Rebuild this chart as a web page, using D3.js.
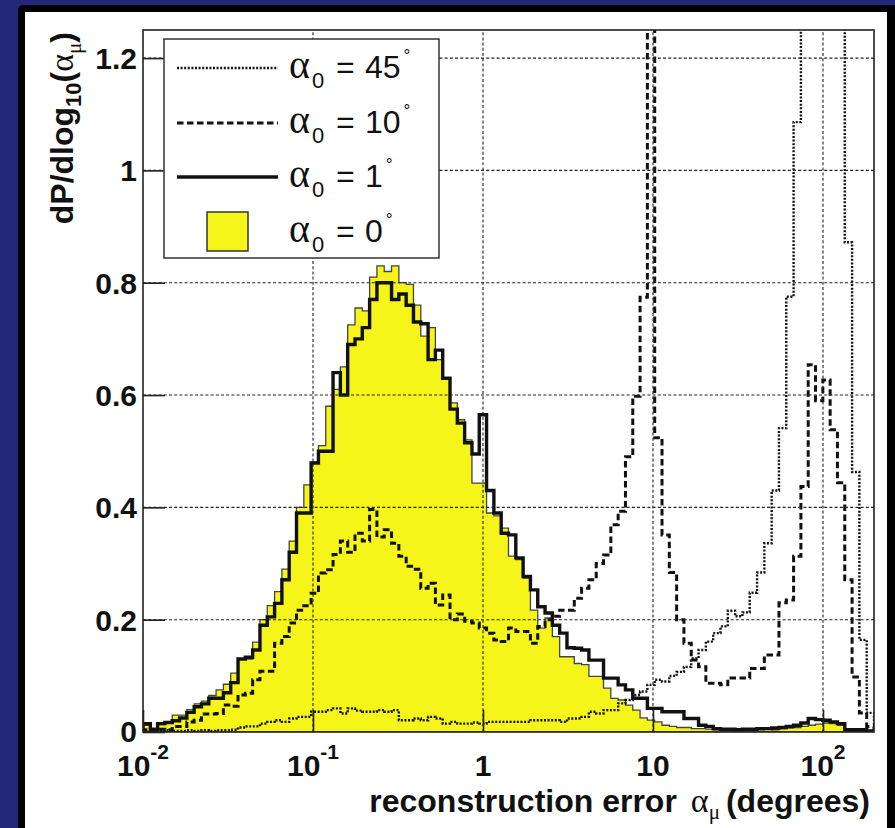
<!DOCTYPE html>
<html>
<head>
<meta charset="utf-8">
<script src="https://cdn.jsdelivr.net/npm/d3@7"></script>
<style>
  html, body { margin: 0; padding: 0; background: #25277a; overflow: hidden; }
  svg { display: block; }
</style>
</head>
<body>
<div id="chart"></div>
<script>
// binning of the histograms: 100 bins, equal width in log10(alpha_mu)
var nBins = 100, logMin = -2, logStep = 0.043;

// dP/dlog10 per bin
var alpha0 = [
  0.012, 0.004, 0.013, 0.018, 0.030, 0.030, 0.040, 0.050, 0.055, 0.065,
  0.075, 0.085, 0.105, 0.130, 0.130, 0.160, 0.200, 0.225, 0.250, 0.290,
  0.340, 0.400, 0.440, 0.480, 0.510, 0.580, 0.610, 0.650, 0.725, 0.755,
  0.750, 0.810, 0.830, 0.820, 0.830, 0.800, 0.797, 0.760, 0.705, 0.720,
  0.663, 0.630, 0.586, 0.556, 0.520, 0.443, 0.443, 0.390, 0.385, 0.363,
  0.313, 0.307, 0.274, 0.217, 0.185, 0.203, 0.170, 0.134, 0.134, 0.122,
  0.120, 0.099, 0.099, 0.078, 0.060, 0.057, 0.048, 0.039, 0.025, 0.021,
  0.018, 0.012, 0.010, 0.008, 0.008, 0.006, 0.006, 0.005, 0.004, 0.004,
  0.004, 0.005, 0.003, 0.004, 0.004, 0.005, 0.004, 0.006, 0.007, 0.008,
  0.010, 0.012, 0.014, 0.016, 0.015, 0.012, 0.006, 0.002, 0.001, 0.000
];
var alpha1 = [
  0.015, 0.005, 0.015, 0.017, 0.020, 0.025, 0.035, 0.045, 0.050, 0.060,
  0.060, 0.070, 0.088, 0.130, 0.133, 0.146, 0.190, 0.205, 0.229, 0.271,
  0.320, 0.390, 0.390, 0.479, 0.500, 0.500, 0.640, 0.600, 0.690, 0.700,
  0.720, 0.770, 0.800, 0.800, 0.770, 0.780, 0.760, 0.730, 0.727, 0.663,
  0.680, 0.630, 0.575, 0.550, 0.515, 0.495, 0.565, 0.430, 0.390, 0.354,
  0.351, 0.310, 0.277, 0.253, 0.223, 0.212, 0.190, 0.176, 0.150, 0.149,
  0.146, 0.128, 0.128, 0.096, 0.096, 0.084, 0.075, 0.060, 0.060, 0.042,
  0.042, 0.036, 0.036, 0.036, 0.024, 0.024, 0.012, 0.010, 0.006, 0.005,
  0.005, 0.004, 0.005, 0.005, 0.006, 0.006, 0.007, 0.008, 0.010, 0.012,
  0.016, 0.024, 0.022, 0.021, 0.018, 0.015, 0.004, 0.004, 0.004, 0.002
];
var alpha10 = [
  0.004, 0.003, 0.005, 0.004, 0.010, 0.010, 0.018, 0.021, 0.032, 0.032,
  0.033, 0.048, 0.046, 0.066, 0.069, 0.093, 0.108, 0.108, 0.158, 0.170,
  0.194, 0.217, 0.225, 0.247, 0.283, 0.289, 0.316, 0.340, 0.320, 0.354,
  0.340, 0.396, 0.347, 0.360, 0.336, 0.313, 0.295, 0.290, 0.256, 0.265,
  0.226, 0.244, 0.200, 0.210, 0.197, 0.194, 0.185, 0.176, 0.164, 0.161,
  0.185, 0.179, 0.179, 0.158, 0.188, 0.200, 0.206, 0.217, 0.217, 0.238,
  0.256, 0.271, 0.300, 0.315, 0.369, 0.393, 0.490, 0.598, 0.774, 6.500,
  0.524, 0.351, 0.284, 0.200, 0.158, 0.128, 0.116, 0.087, 0.087, 0.084,
  0.096, 0.096, 0.096, 0.113, 0.113, 0.137, 0.137, 0.230, 0.235, 0.313,
  0.437, 0.654, 0.590, 0.627, 0.538, 0.444, 0.271, 0.098, 0.034, 0.010
];
var alpha45 = [
  0.002, 0.002, 0.002, 0.003, 0.002, 0.002, 0.003, 0.002, 0.003, 0.002,
  0.003, 0.003, 0.004, 0.008, 0.010, 0.010, 0.015, 0.018, 0.021, 0.018,
  0.024, 0.027, 0.027, 0.036, 0.036, 0.039, 0.042, 0.033, 0.042, 0.038,
  0.036, 0.036, 0.039, 0.036, 0.039, 0.021, 0.021, 0.024, 0.021, 0.027,
  0.024, 0.015, 0.018, 0.015, 0.015, 0.017, 0.015, 0.018, 0.018, 0.018,
  0.018, 0.018, 0.018, 0.021, 0.021, 0.021, 0.021, 0.018, 0.024, 0.024,
  0.027, 0.036, 0.033, 0.039, 0.039, 0.051, 0.057, 0.066, 0.072, 0.084,
  0.093, 0.090, 0.100, 0.107, 0.116, 0.131, 0.146, 0.161, 0.176, 0.188,
  0.216, 0.206, 0.213, 0.248, 0.284, 0.336, 0.430, 0.541, 0.775, 1.086,
  2.200, 2.900, 3.100, 3.000, 2.600, 1.900, 0.872, 0.463, 0.164, 0.034
];

var xTicks = [0.01, 0.1, 1, 10, 100];
var xTickBase = ['10', '10', '1', '10', '10'];
var xTickExp = ['-2', '-1', '', '', '2'];
var yTicks = [0, 0.2, 0.4, 0.6, 0.8, 1, 1.2];
var yTickLabels = ['0', '0.2', '0.4', '0.6', '0.8', '1', '1.2'];
var legendDegrees = ['45', '10', '1', '0'];

var W = 895, H = 828;
var plot = { left: 143, right: 874, top: 30, bottom: 732 };
var yellow = '#f5f519';
var ink = '#111';
var sans = '"Liberation Sans", Arial, Helvetica, sans-serif';
var serif = '"Liberation Serif", "Times New Roman", serif';

var svg = d3.select('#chart').append('svg')
    .attr('width', W)
    .attr('height', H);

// slide background and the white panel with its black edge
svg.append('rect').attr('width', W).attr('height', H).attr('fill', '#25277a');
svg.append('rect')
    .attr('x', 18).attr('y', 5).attr('width', 900).attr('height', 840)
    .attr('rx', 5).attr('fill', '#000');
svg.append('rect')
    .attr('x', 25).attr('y', 12).attr('width', 862).attr('height', 830)
    .attr('fill', '#fff');

var x = d3.scaleLog()
    .domain([0.01, Math.pow(10, logMin + nBins * logStep)])
    .range([plot.left, plot.right]);
var y = d3.scaleLinear()
    .domain([0, 1.25])
    .range([plot.bottom, plot.top]);

var edges = d3.range(nBins + 1).map(function(i) {
    return Math.pow(10, logMin + i * logStep);
});

function stepPath(vals, close) {
    var p = d3.path();
    p.moveTo(x(edges[0]), y(0));
    vals.forEach(function(v, i) {
        p.lineTo(x(edges[i]), y(v));
        p.lineTo(x(edges[i + 1]), y(v));
    });
    p.lineTo(x(edges[nBins]), y(0));
    if (close) p.closePath();
    return p.toString();
}

svg.append('clipPath').attr('id', 'plotclip')
  .append('rect')
    .attr('x', plot.left).attr('y', plot.top)
    .attr('width', plot.right - plot.left).attr('height', plot.bottom - plot.top);

var g = svg.append('g').attr('clip-path', 'url(#plotclip)');

// alpha0 = 0 filled histogram
g.append('path')
    .attr('d', stepPath(alpha0, true))
    .attr('fill', yellow)
    .attr('stroke', '#444')
    .attr('stroke-width', 1.3);

// grid
var grid = svg.append('g').attr('stroke', '#222').attr('stroke-width', 1.1)
    .attr('stroke-dasharray', '3,2.2');
grid.selectAll('.gy').data(yTicks.slice(1)).enter().append('line')
    .attr('x1', plot.left).attr('x2', plot.right)
    .attr('y1', function(d) { return y(d); })
    .attr('y2', function(d) { return y(d); });
grid.selectAll('.gx').data(xTicks.slice(1)).enter().append('line')
    .attr('x1', function(d) { return x(d); })
    .attr('x2', function(d) { return x(d); })
    .attr('y1', plot.bottom).attr('y2', plot.top);

// the three outline histograms
g.append('path')
    .attr('d', stepPath(alpha45, false))
    .attr('fill', 'none').attr('stroke', ink)
    .attr('stroke-width', 2.4).attr('stroke-dasharray', '2,1.6');
g.append('path')
    .attr('d', stepPath(alpha10, false))
    .attr('fill', 'none').attr('stroke', ink)
    .attr('stroke-width', 3).attr('stroke-dasharray', '6.5,3.5');
g.append('path')
    .attr('d', stepPath(alpha1, false))
    .attr('fill', 'none').attr('stroke', ink)
    .attr('stroke-width', 3.4).attr('stroke-linejoin', 'miter');

// axes: ticks point into the frame
var yMinor = d3.range(0, 1.25, 0.05);
var yAx = svg.append('g').attr('transform', 'translate(' + plot.left + ',0)');
yAx.call(d3.axisRight(y).tickValues(yMinor).tickSize(12).tickFormat(''));
yAx.call(d3.axisRight(y).tickValues(yTicks).tickSize(22).tickFormat(''));
yAx.selectAll('.domain').remove();

var xMinor = [];
xTicks.forEach(function(dec) {
    d3.range(2, 10).forEach(function(m) {
        if (dec * m <= x.domain()[1]) xMinor.push(dec * m);
    });
});
var xAx = svg.append('g').attr('transform', 'translate(0,' + plot.bottom + ')');
xAx.call(d3.axisTop(x).tickValues(xMinor).tickSize(11).tickFormat(''));
xAx.call(d3.axisTop(x).tickValues(xTicks).tickSize(22).tickFormat(''));
xAx.selectAll('.domain').remove();
svg.selectAll('.tick line').attr('stroke', '#222').attr('stroke-width', 1.6);

svg.append('rect')
    .attr('x', plot.left).attr('y', plot.top)
    .attr('width', plot.right - plot.left).attr('height', plot.bottom - plot.top)
    .attr('fill', 'none').attr('stroke', '#222').attr('stroke-width', 1.6);

// tick labels
svg.append('g').selectAll('text').data(yTicks).enter().append('text')
    .attr('x', 137)
    .attr('y', function(d) { return y(d) + (d === 0 ? 10 : 11); })
    .attr('text-anchor', 'end')
    .attr('font-family', sans).attr('font-weight', 'bold').attr('font-size', 30)
    .attr('fill', ink)
    .text(function(d, i) { return yTickLabels[i]; });

var xl = svg.append('g').selectAll('text').data(xTicks).enter().append('text')
    .attr('x', function(d) { return x(d); })
    .attr('y', 776)
    .attr('text-anchor', 'middle')
    .attr('font-family', sans).attr('font-weight', 'bold').attr('font-size', 30)
    .attr('fill', ink);
xl.append('tspan').text(function(d, i) { return xTickBase[i]; });
xl.filter(function(d, i) { return xTickExp[i] !== ''; })
  .append('tspan')
    .attr('font-size', 21).attr('dy', -17)
    .text(function(d) { return xTickExp[xTicks.indexOf(d)]; });

// axis titles
var xt = svg.append('text')
    .attr('x', 870).attr('y', 812)
    .attr('text-anchor', 'end')
    .attr('font-family', sans).attr('font-weight', 'bold').attr('font-size', 32)
    .attr('fill', ink);
xt.append('tspan').text('reconstruction error');
xt.append('tspan').attr('dx', 14).attr('font-family', serif).attr('font-weight', 'normal')
    .attr('font-size', 34).text('α');
xt.append('tspan').attr('font-family', serif).attr('font-weight', 'normal')
    .attr('font-size', 21).attr('dy', 7).text('μ');
xt.append('tspan').attr('dy', -7).attr('dx', 6).text('(degrees)');

var yt = svg.append('text')
    .attr('transform', 'translate(73,32) rotate(-90)')
    .attr('text-anchor', 'end')
    .attr('font-family', sans).attr('font-weight', 'bold').attr('font-size', 32)
    .attr('fill', ink);
yt.append('tspan').text('dP/dlog');
yt.append('tspan').attr('font-size', 22).attr('dy', 8).text('10');
yt.append('tspan').attr('dy', -8).text('(');
yt.append('tspan').attr('font-family', serif).attr('font-weight', 'normal')
    .attr('font-size', 34).text('α');
yt.append('tspan').attr('font-family', serif).attr('font-weight', 'normal')
    .attr('font-size', 21).attr('dy', 8).text('μ');
yt.append('tspan').attr('dy', -8).text(')');

// legend
var legend = svg.append('g');
legend.append('rect')
    .attr('x', 164).attr('y', 39).attr('width', 275).attr('height', 219)
    .attr('fill', '#fff').attr('stroke', '#333').attr('stroke-width', 1.5);

var rowY = [68, 123, 177, 232];
var rowStyle = [
    { w: 2.4, dash: '2,1.6' },
    { w: 3, dash: '6.5,3.5' },
    { w: 3.4, dash: null }
];
rowStyle.forEach(function(s, i) {
    legend.append('line')
        .attr('x1', 177).attr('x2', 278)
        .attr('y1', rowY[i]).attr('y2', rowY[i])
        .attr('stroke', ink).attr('stroke-width', s.w)
        .attr('stroke-dasharray', s.dash);
});
legend.append('rect')
    .attr('x', 207).attr('y', 212).attr('width', 41).attr('height', 39)
    .attr('fill', yellow).attr('stroke', '#333').attr('stroke-width', 1.5);

legendDegrees.forEach(function(deg, i) {
    var base = rowY[i] + 10;
    var t = legend.append('text')
        .attr('y', base)
        .attr('font-family', sans).attr('font-size', 32).attr('fill', ink);
    t.append('tspan').attr('x', 289).attr('font-family', serif).attr('font-size', 40).text('α');
    t.append('tspan').attr('x', 312).attr('y', base + 10).attr('font-size', 22).text('0');
    t.append('tspan').attr('x', 336).attr('y', base).text('=');
    t.append('tspan').attr('x', 365).text(deg);
    t.append('tspan').attr('font-size', 17).attr('dy', -17).attr('dx', 3).text('°');
});
</script>
</body>
</html>
